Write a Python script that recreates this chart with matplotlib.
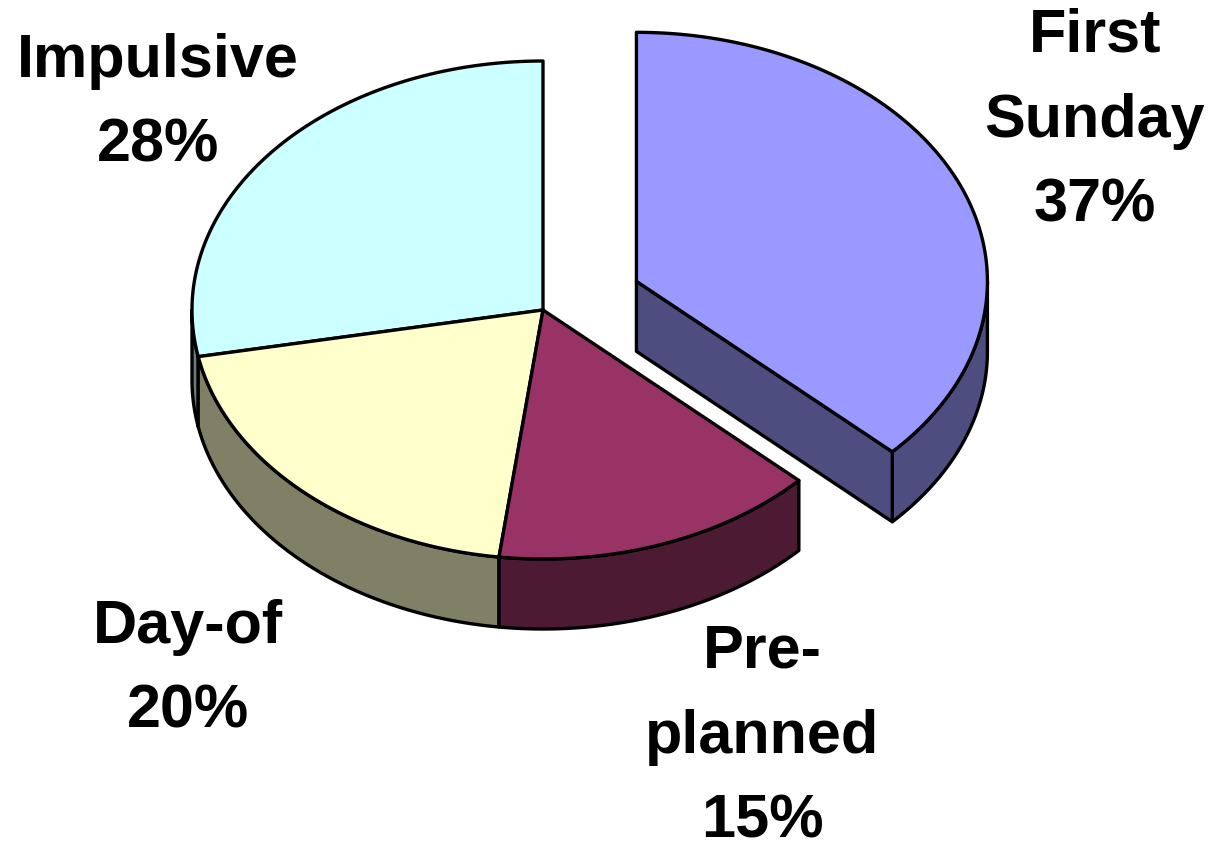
import matplotlib.pyplot as plt
import numpy as np
from matplotlib.patches import Polygon

# Data
categories = ['First\nSunday', 'Pre-\nplanned', 'Day-of', 'Impulsive']
shares = [37, 15, 20, 28]
explode = [0.29, 0, 0, 0]

# Style
TOP_COLORS = ['#9999FF', '#993366', '#FFFFCC', '#CCFFFF']
SIDE_COLORS = ['#4D4D80', '#4D1A33', '#808066', '#668080']
LABEL_XY = [(1095, 222), (762, 838), (188, 728), (158, 162)]

CX, CY = 543, 310      # pie centre (pixels)
RX, RY = 351, 249      # ellipse radii
DEPTH = 70             # thickness of the 3D disc
EDGE = dict(edgecolor='black', linewidth=2.4, joinstyle='round')


def pt(t, dx, dy, z=0):
    r = np.radians(t)
    return np.array([CX + dx + RX * np.cos(r), CY + dy - RY * np.sin(r) + z])


def arc(t0, t1, dx, dy, z=0, n=150):
    r = np.radians(np.linspace(t0, t1, n))
    return np.column_stack([CX + dx + RX * np.cos(r), CY + dy - RY * np.sin(r) + z])


fig = plt.figure(figsize=(12.15, 8.51), dpi=100)
ax = fig.add_axes([0, 0, 1, 1])
ax.set_xlim(0, 1215)
ax.set_ylim(851, 0)
ax.axis('off')

# slice angles, clockwise from 12 o'clock
total = float(sum(shares))
slices = []
cum = 0
for i, v in enumerate(shares):
    b = 90 - 360 * cum / total
    a = b - 360 * v / total
    cum += v
    mid = np.radians((a + b) / 2)
    dx = explode[i] * RX * np.cos(mid)
    dy = -explode[i] * RY * np.sin(mid)
    slices.append((i, a, b, dx, dy, np.sin(mid)))

n = len(shares)
# draw back-most slices first
for i, a, b, dx, dy, s in sorted(slices, key=lambda q: -q[5]):
    v0 = np.array([CX + dx, CY + dy])  # vertex

    # outer side wall (front half only)
    lo, hi = max(a, -180), min(b, 0)
    if lo < hi:
        wall = np.vstack([arc(lo, hi, dx, dy), arc(hi, lo, dx, dy, DEPTH)])
        ax.add_patch(Polygon(wall, closed=True, facecolor=SIDE_COLORS[i], **EDGE))

    # radial faces exposed by an exploded slice
    gap_a = explode[i] > 0 or explode[(i + 1) % n] > 0
    gap_b = explode[i] > 0 or explode[(i - 1) % n] > 0
    for t, normal, gap in ((a, a - 90, gap_a), (b, b + 90, gap_b)):
        if gap and np.sin(np.radians(normal)) < -1e-6:
            p = pt(t, dx, dy)
            face = [v0, p, p + [0, DEPTH], v0 + [0, DEPTH]]
            ax.add_patch(Polygon(face, closed=True, facecolor=SIDE_COLORS[i], **EDGE))

    # top face
    top = np.vstack([v0, arc(b, a, dx, dy)])
    ax.add_patch(Polygon(top, closed=True, facecolor=TOP_COLORS[i], **EDGE))

# labels
for name, v, (x, y) in zip(categories, shares, LABEL_XY):
    ax.text(x, y, f'{name}\n{v}%', ha='center', va='baseline', multialignment='center',
            fontsize=44, fontweight='bold', family='Liberation Sans', linespacing=1.64,
            color='black')

fig.savefig('out.png', dpi=100, facecolor='white')
